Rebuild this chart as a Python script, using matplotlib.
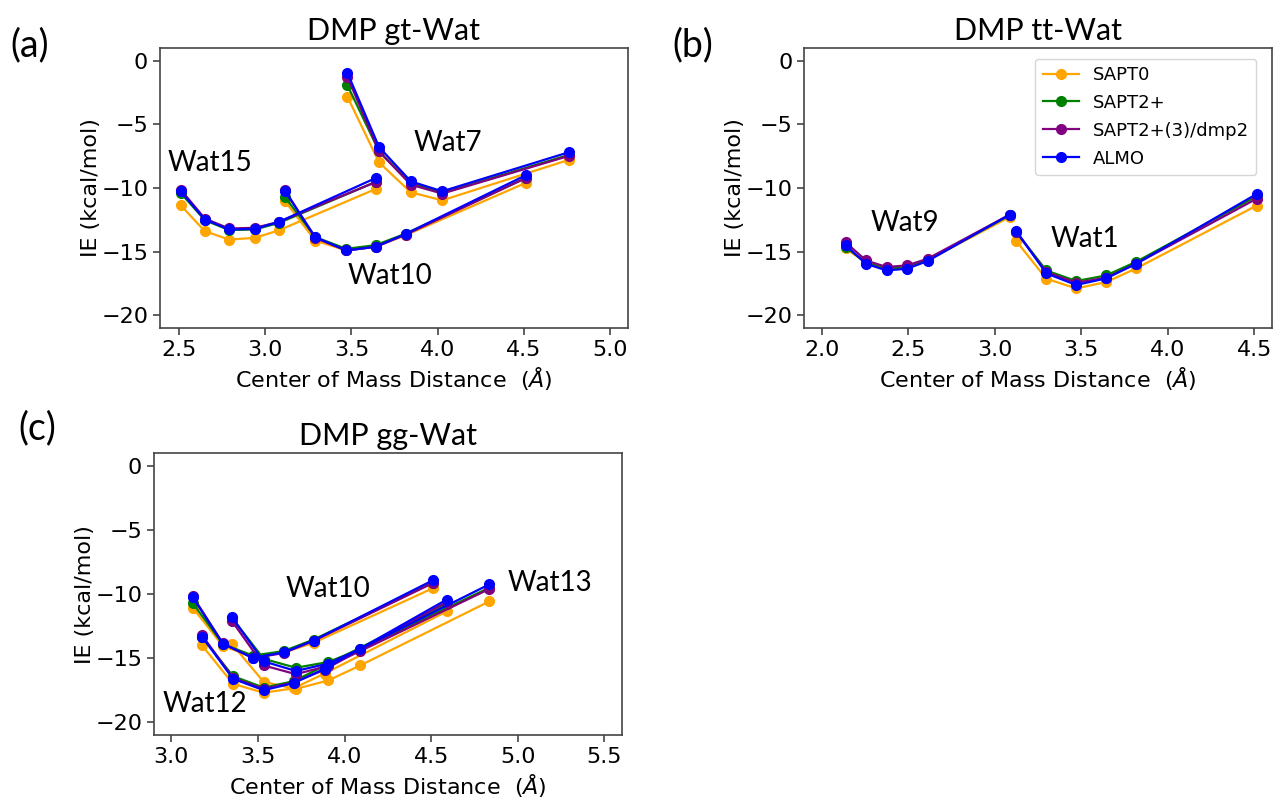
import matplotlib
matplotlib.use("Agg")
import matplotlib.pyplot as plt

# ---------------- data ----------------
methods = ["SAPT0", "SAPT2+", "SAPT2+(3)/dmp2", "ALMO"]
colors = ["orange", "green", "purple", "blue"]

# (a) DMP gt-Wat
a_wat15_x = [2.51, 2.65, 2.79, 2.94, 3.08, 3.64]
a_wat15 = {
    "SAPT0": [-11.36, -13.39, -14.05, -13.92, -13.32, -10.08],
    "SAPT2+": [-10.39, -12.53, -13.30, -13.26, -12.74, -9.53],
    "SAPT2+(3)/dmp2": [-10.13, -12.40, -13.18, -13.13, -12.66, -9.53],
    "ALMO": [-10.26, -12.48, -13.26, -13.21, -12.66, -9.22],
}
a_wat10_x = [3.115, 3.29, 3.47, 3.64, 3.815, 4.51]
a_wat10 = {
    "SAPT0": [-11.04, -14.13, -14.91, -14.62, -13.70, -9.60],
    "SAPT2+": [-10.73, -13.86, -14.78, -14.49, -13.58, -9.22],
    "SAPT2+(3)/dmp2": [-10.18, -13.92, -14.91, -14.62, -13.66, -9.22],
    "ALMO": [-10.26, -13.86, -14.91, -14.62, -13.60, -9.00],
}
a_wat7_x = [3.476, 3.66, 3.844, 4.026, 4.762]
a_wat7 = {
    "SAPT0": [-2.82, -7.99, -10.34, -10.97, -7.78],
    "SAPT2+": [-1.91, -7.13, -9.61, -10.39, -7.39],
    "SAPT2+(3)/dmp2": [-1.25, -7.13, -9.74, -10.44, -7.47],
    "ALMO": [-0.94, -6.79, -9.48, -10.26, -7.18],
}

# (b) DMP tt-Wat
b_wat9_x = [2.138, 2.256, 2.375, 2.494, 2.612, 3.087]
b_wat9 = {
    "SAPT0": [-14.75, -15.87, -16.40, -16.27, -15.69, -12.27],
    "SAPT2+": [-14.62, -15.87, -16.34, -16.21, -15.67, -12.14],
    "SAPT2+(3)/dmp2": [-14.26, -15.69, -16.21, -16.08, -15.56, -12.09],
    "ALMO": [-14.49, -15.95, -16.48, -16.34, -15.74, -12.09],
}
b_wat1_x = [3.125, 3.298, 3.471, 3.644, 3.817, 4.513]
b_wat1 = {
    "SAPT0": [-14.18, -17.13, -17.89, -17.39, -16.32, -11.38],
    "SAPT2+": [-13.47, -16.48, -17.31, -16.87, -15.80, -10.65],
    "SAPT2+(3)/dmp2": [-13.47, -16.61, -17.44, -17.05, -15.95, -10.84],
    "ALMO": [-13.39, -16.71, -17.62, -17.10, -15.95, -10.47],
}

# (c) DMP gg-Wat
c_wat10_x = [3.123, 3.298, 3.471, 3.648, 3.821, 4.508]
c_wat10 = {
    "SAPT0": [-11.05, -14.05, -14.90, -14.55, -13.80, -9.55],
    "SAPT2+": [-10.70, -13.90, -14.80, -14.45, -13.55, -9.10],
    "SAPT2+(3)/dmp2": [-10.15, -13.85, -15.00, -14.60, -13.65, -9.15],
    "ALMO": [-10.23, -13.88, -14.97, -14.55, -13.62, -8.93],
}
c_wat12_x = [3.177, 3.356, 3.533, 3.706, 3.885, 4.59]
c_wat12 = {
    "SAPT0": [-14.00, -17.00, -17.70, -17.35, -16.20, -11.35],
    "SAPT2+": [-13.35, -16.40, -17.30, -16.80, -15.60, -10.75],
    "SAPT2+(3)/dmp2": [-13.20, -16.55, -17.40, -16.90, -15.90, -10.60],
    "ALMO": [-13.31, -16.61, -17.50, -16.95, -15.83, -10.42],
}
c_wat13_x = [3.35, 3.533, 3.719, 3.906, 4.09, 4.835]
c_wat13 = {
    "SAPT0": [-13.90, -16.85, -17.40, -16.74, -15.57, -10.57],
    "SAPT2+": [-11.85, -15.05, -15.75, -15.30, -14.30, -9.50],
    "SAPT2+(3)/dmp2": [-12.10, -15.57, -16.25, -15.60, -14.45, -9.60],
    "ALMO": [-11.80, -15.25, -16.00, -15.42, -14.27, -9.24],
}

panels = [
    dict(title="DMP gt-Wat", tag="(a)", groups=[(a_wat15_x, a_wat15), (a_wat10_x, a_wat10), (a_wat7_x, a_wat7)],
         labels=[("Wat15", 2.68, -8.0), ("Wat7", 4.06, -6.43), ("Wat10", 3.724, -16.9)],
         xlim=(2.39, 5.10), xticks=[2.5, 3.0, 3.5, 4.0, 4.5, 5.0],
         rect=[160 / 1274, 1 - 328 / 799, 467.5 / 1274, 280 / 799], tagpos=(30, 45)),
    dict(title="DMP tt-Wat", tag="(b)", groups=[(b_wat9_x, b_wat9), (b_wat1_x, b_wat1)],
         labels=[("Wat9", 2.48, -12.76), ("Wat1", 3.52, -14.0)],
         xlim=(1.90, 4.60), xticks=[2.0, 2.5, 3.0, 3.5, 4.0, 4.5],
         rect=[804.3 / 1274, 1 - 328 / 799, 467.4 / 1274, 280 / 799], tagpos=(693, 45)),
    dict(title="DMP gg-Wat", tag="(c)", groups=[(c_wat10_x, c_wat10), (c_wat12_x, c_wat12), (c_wat13_x, c_wat13)],
         labels=[("Wat10", 3.906, -9.63), ("Wat12", 3.194, -18.54), ("Wat13", 5.187, -9.12)],
         xlim=(2.90, 5.60), xticks=[3.0, 3.5, 4.0, 4.5, 5.0, 5.5],
         rect=[154 / 1274, 1 - 735 / 799, 467.7 / 1274, 281.7 / 799], tagpos=(37, 428)),
]
yticks = [0, -5, -10, -15, -20]

# ---------------- plotting ----------------
fig = plt.figure(figsize=(12.74, 7.99), dpi=100)
ann_font = "Lato"

for i, p in enumerate(panels):
    ax = fig.add_axes(p["rect"])
    for m, c in zip(methods, colors):
        for gi, (gx, gd) in enumerate(p["groups"]):
            ax.plot(gx, gd[m], "-o", color=c, lw=1.6, ms=7,
                    label=m if gi == 0 else None)
    ax.set_xlim(*p["xlim"])
    ax.set_ylim(-21, 1)
    ax.set_xticks(p["xticks"])
    ax.set_yticks(yticks)
    ax.tick_params(labelsize=16, width=1.2, length=5, color="#444444")
    for s in ax.spines.values():
        s.set_color("#444444")
        s.set_linewidth(1.2)
    ax.set_xlabel(r"Center of Mass Distance  ($\mathit{\AA}$)", fontsize=16)
    ax.set_ylabel("IE (kcal/mol)", fontsize=16, labelpad=0)
    ax.set_title(p["title"], fontsize=22, family=ann_font)
    for txt, tx, ty in p["labels"]:
        ax.text(tx, ty, txt, fontsize=20, family=ann_font, ha="center", va="center")
    fig.text(p["tagpos"][0] / 1274, 1 - p["tagpos"][1] / 799, p["tag"],
             fontsize=27, family=ann_font, ha="center", va="center")
    if i == 1:
        ax.legend(loc="upper right", fontsize=13, bbox_to_anchor=(0.975, 0.975),
                  borderaxespad=0.2, labelspacing=0.55)

fig.savefig("out.png", dpi=100)
